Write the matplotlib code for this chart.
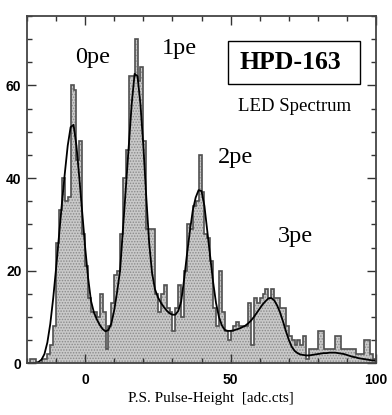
import numpy as np
import matplotlib
matplotlib.use("Agg")
import matplotlib.pyplot as plt
from matplotlib.patches import Rectangle

# LED spectrum histogram, 1 adc count per bin, first bin starts at -20
bin_start = -20
counts = [
    0, 1, 1, 0, 0, 1, 1, 2, 4, 8,            # -20 .. -11
    26, 33, 40, 35, 36, 60, 59, 44, 48, 28,  # -10 .. -1
    21, 14, 11, 11, 10, 15, 11, 3, 8, 13,    # 0 .. 9
    19, 20, 28, 40, 46, 62, 62, 70, 61, 64,  # 10 .. 19
    48, 29, 29, 29, 15, 11, 15, 17, 12, 11,  # 20 .. 29
    7, 12, 17, 10, 20, 30, 29, 34, 35, 45,   # 30 .. 39
    37, 28, 27, 22, 12, 8, 20, 11, 7, 5,     # 40 .. 49
    7, 8, 9, 8, 8, 8, 13, 4, 14, 13,         # 50 .. 59
    14, 15, 16, 14, 16, 14, 14, 12, 12, 8,   # 60 .. 69
    6, 5, 4, 5, 4, 6, 1, 3, 3, 3,            # 70 .. 79
    7, 7, 3, 3, 3, 3, 6, 6, 3, 3,            # 80 .. 89
    3, 3, 3, 2, 2, 2, 5, 5, 2, 1,            # 90 .. 99
]

# multi-gaussian fit, sampled at integer pulse heights -20 .. 100
fit_x = list(range(-20, 101))
fit_y = [
    0, 0, 0, 0.1, 0.3, 0.8, 2, 4.5, 8.5, 14,              # -20 .. -11
    20.5, 27.5, 34.5, 41, 47, 51, 51.5, 47, 40, 32.5,     # -10 .. -1
    25, 18.5, 13.5, 11, 9.5, 8.3, 7.4, 6.9, 7.2, 8.6,     # 0 .. 9
    11.5, 15.5, 20, 29, 38, 47, 56, 62.5, 62, 56,         # 10 .. 19
    47, 36, 26, 19.5, 16, 14.3, 13.1, 12.2, 11.4, 10.8,   # 20 .. 29
    10.5, 10.5, 11.3, 13.3, 18, 23.5, 28.5, 33, 35.8, 37.4,  # 30 .. 39
    37.2, 34, 28.5, 23, 17.5, 13, 10, 8.2, 7.2, 7,        # 40 .. 49
    7, 7.1, 7.3, 7.5, 7.8, 8.1, 8.6, 9.2, 10, 10.9,       # 50 .. 59
    11.8, 12.7, 13.4, 14, 14.1, 13.6, 12.5, 11, 9.1, 7,   # 60 .. 69
    5.1, 3.6, 2.7, 2.2, 1.9, 1.8, 1.7, 1.7, 1.8, 1.9,     # 70 .. 79
    2.0, 2.1, 2.2, 2.2, 2.3, 2.3, 2.3, 2.2, 2.1, 2.0,     # 80 .. 89
    1.8, 1.6, 1.4, 1.3, 1.1, 1.0, 0.9, 0.8, 0.7, 0.6,     # 90 .. 99
    0.6,                                                   # 100
]

peak_labels = ["0pe", "1pe", "2pe", "3pe"]

edges = bin_start + np.arange(len(counts) + 1)

plt.rcParams['hatch.color'] = '#8a8a8a'
plt.rcParams['hatch.linewidth'] = 0.7

fig = plt.figure(figsize=(3.92, 4.15), dpi=100)
ax = fig.add_axes([27/392, 51.7/415, 349/392, 347.3/415])

# stippled histogram body + dark step outline
ax.stairs(counts, edges, fill=True, facecolor='#c9c9c9', hatch='......',
          edgecolor='#8a8a8a', linewidth=0)
ax.stairs(counts, edges, color='#505050', linewidth=1.2)
ax.plot(fit_x, fit_y, color='black', linewidth=1.3)

ax.set_xlim(-20, 100)
ax.set_ylim(0, 75)
ax.set_xticks([0, 50, 100])
ax.set_xticks(np.arange(-20, 101, 10), minor=True)
ax.set_yticks([0, 20, 40, 60])
ax.set_yticks(np.arange(0, 76, 5), minor=True)
ax.tick_params(which='both', direction='in', top=True, right=True,
               color='#333333', width=1.0)
ax.tick_params(which='major', length=6.5)
ax.tick_params(which='minor', length=3.6)
ax.tick_params(axis='x', pad=7)
ax.tick_params(axis='y', pad=4)
for lab in ax.get_xticklabels() + ax.get_yticklabels():
    lab.set_fontfamily('Liberation Sans')
    lab.set_fontweight('bold')
    lab.set_fontsize(10)
for sp in ax.spines.values():
    sp.set_color('#444444')
    sp.set_linewidth(1.3)

serif = 'Liberation Serif'
ax.text(0.527, -0.083, 'P.S. Pulse-Height  [adc.cts]', transform=ax.transAxes,
        ha='center', va='top', fontsize=11, family=serif)

# peak annotations
label_pos = [(-3.5, 64.8), (26.4, 66.8), (45.8, 43.2), (66.1, 26.1)]
for txt, (lx, ly) in zip(peak_labels, label_pos):
    ax.text(lx, ly, txt, ha='left', va='baseline', fontsize=17.5, family=serif)

ax.add_patch(Rectangle((49.1, 60.3), 45.5, 9.4, fill=False,
                       edgecolor='black', linewidth=1.0))
ax.text(70.5, 65.0, 'HPD-163', ha='center', va='center', fontsize=18.5,
        family=serif, fontweight='bold')
ax.text(71.9, 54.5, 'LED Spectrum', ha='center', va='baseline',
        fontsize=13.5, family=serif)

fig.savefig('out.png', dpi=100)
